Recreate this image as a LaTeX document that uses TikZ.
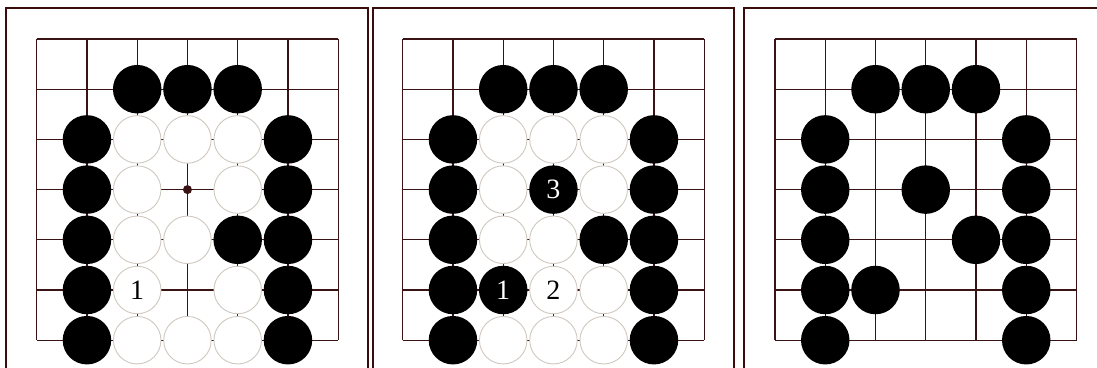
\documentclass[tikz,border=0pt]{standalone}
\usepackage{fontspec}
\setmainfont{Liberation Serif}
\definecolor{gridc}{HTML}{3A1414}
\definecolor{framec}{HTML}{3A0C0C}
\definecolor{wline}{HTML}{CFC8C0}
\begin{document}
\begin{tikzpicture}[x=1pt,y=-1pt,
  gridline/.style={draw=gridc, line width=1.1pt},
  frameline/.style={draw=framec, line width=2pt},
  bstone/.style={circle, fill=black, minimum size=48.5pt, inner sep=0pt, text=white, font=\fontsize{28}{28}\selectfont},
  wstone/.style={circle, fill=white, draw=wline, line width=0.9pt, minimum size=47.5pt, inner sep=0pt, text=black, font=\fontsize{28}{28}\selectfont},
  hoshi/.style={circle, fill=gridc, minimum size=9pt, inner sep=0pt}]
\useasboundingbox (0,0) rectangle (1097,367);
\clip (0,0) rectangle (1097,367);
% frames
\coordinate (fa1) at (6,380); \coordinate (fa2) at (6,8); \coordinate (fa3) at (368,8); \coordinate (fa4) at (368,380);
\coordinate (fb1) at (372.5,380); \coordinate (fb2) at (372.5,8); \coordinate (fb3) at (734,8); \coordinate (fb4) at (734,380);
\coordinate (fc1) at (744,380); \coordinate (fc2) at (744,8); \coordinate (fc3) at (1106,8); \coordinate (fc4) at (1106,380);
\draw[frameline] (fa1) -- (fa2) -- (fa3) -- (fa4);
\draw[frameline] (fb1) -- (fb2) -- (fb3) -- (fb4);
\draw[frameline] (fc1) -- (fc2) -- (fc3) -- (fc4);
% grids
\foreach \ox in {36.7,402.7,775} {
  \begin{scope}[shift={(\ox,39)}, x=50.25pt, y=-50.2pt]
    \foreach \i in {0,...,6} {
      \draw[gridline] (\i,0) -- (\i,6);
      \draw[gridline] (0,\i) -- (6,\i);
    }
  \end{scope}
}
% panel 1
\begin{scope}[shift={(36.7,39)}, x=50.25pt, y=-50.2pt]
  \foreach \c in {2,3,4} \node[bstone] (a-\c-1) at (\c,1) {};
  \foreach \r in {2,...,6} {
    \node[bstone] (a-1-\r) at (1,\r) {};
    \node[bstone] (a-5-\r) at (5,\r) {};
  }
  \foreach \c/\r in {2/2,3/2,4/2,2/3,4/3,2/4,3/4,4/5,2/6,3/6,4/6}
    \node[wstone] (a-\c-\r) at (\c,\r) {};
  \node[wstone] (a-2-5) at (2,5) {1};
  \node[bstone] (a-4-4) at (4,4) {};
  \node[hoshi] (a-dot) at (3,3) {};
\end{scope}
% panel 2
\begin{scope}[shift={(402.7,39)}, x=50.25pt, y=-50.2pt]
  \foreach \c in {2,3,4} \node[bstone] (b-\c-1) at (\c,1) {};
  \foreach \r in {2,...,6} {
    \node[bstone] (b-1-\r) at (1,\r) {};
    \node[bstone] (b-5-\r) at (5,\r) {};
  }
  \foreach \c/\r in {2/2,3/2,4/2,2/3,4/3,2/4,3/4,4/5,2/6,3/6,4/6}
    \node[wstone] (b-\c-\r) at (\c,\r) {};
  \node[bstone] (b-3-3) at (3,3) {3};
  \node[bstone] (b-4-4) at (4,4) {};
  \node[bstone] (b-2-5) at (2,5) {1};
  \node[wstone] (b-3-5) at (3,5) {2};
\end{scope}
% panel 3
\begin{scope}[shift={(775,39)}, x=50.25pt, y=-50.2pt]
  \foreach \c in {2,3,4} \node[bstone] (c-\c-1) at (\c,1) {};
  \foreach \r in {2,...,6} {
    \node[bstone] (c-1-\r) at (1,\r) {};
    \node[bstone] (c-5-\r) at (5,\r) {};
  }
  \node[bstone] (c-3-3) at (3,3) {};
  \node[bstone] (c-4-4) at (4,4) {};
  \node[bstone] (c-2-5) at (2,5) {};
\end{scope}
\end{tikzpicture}
\end{document}
